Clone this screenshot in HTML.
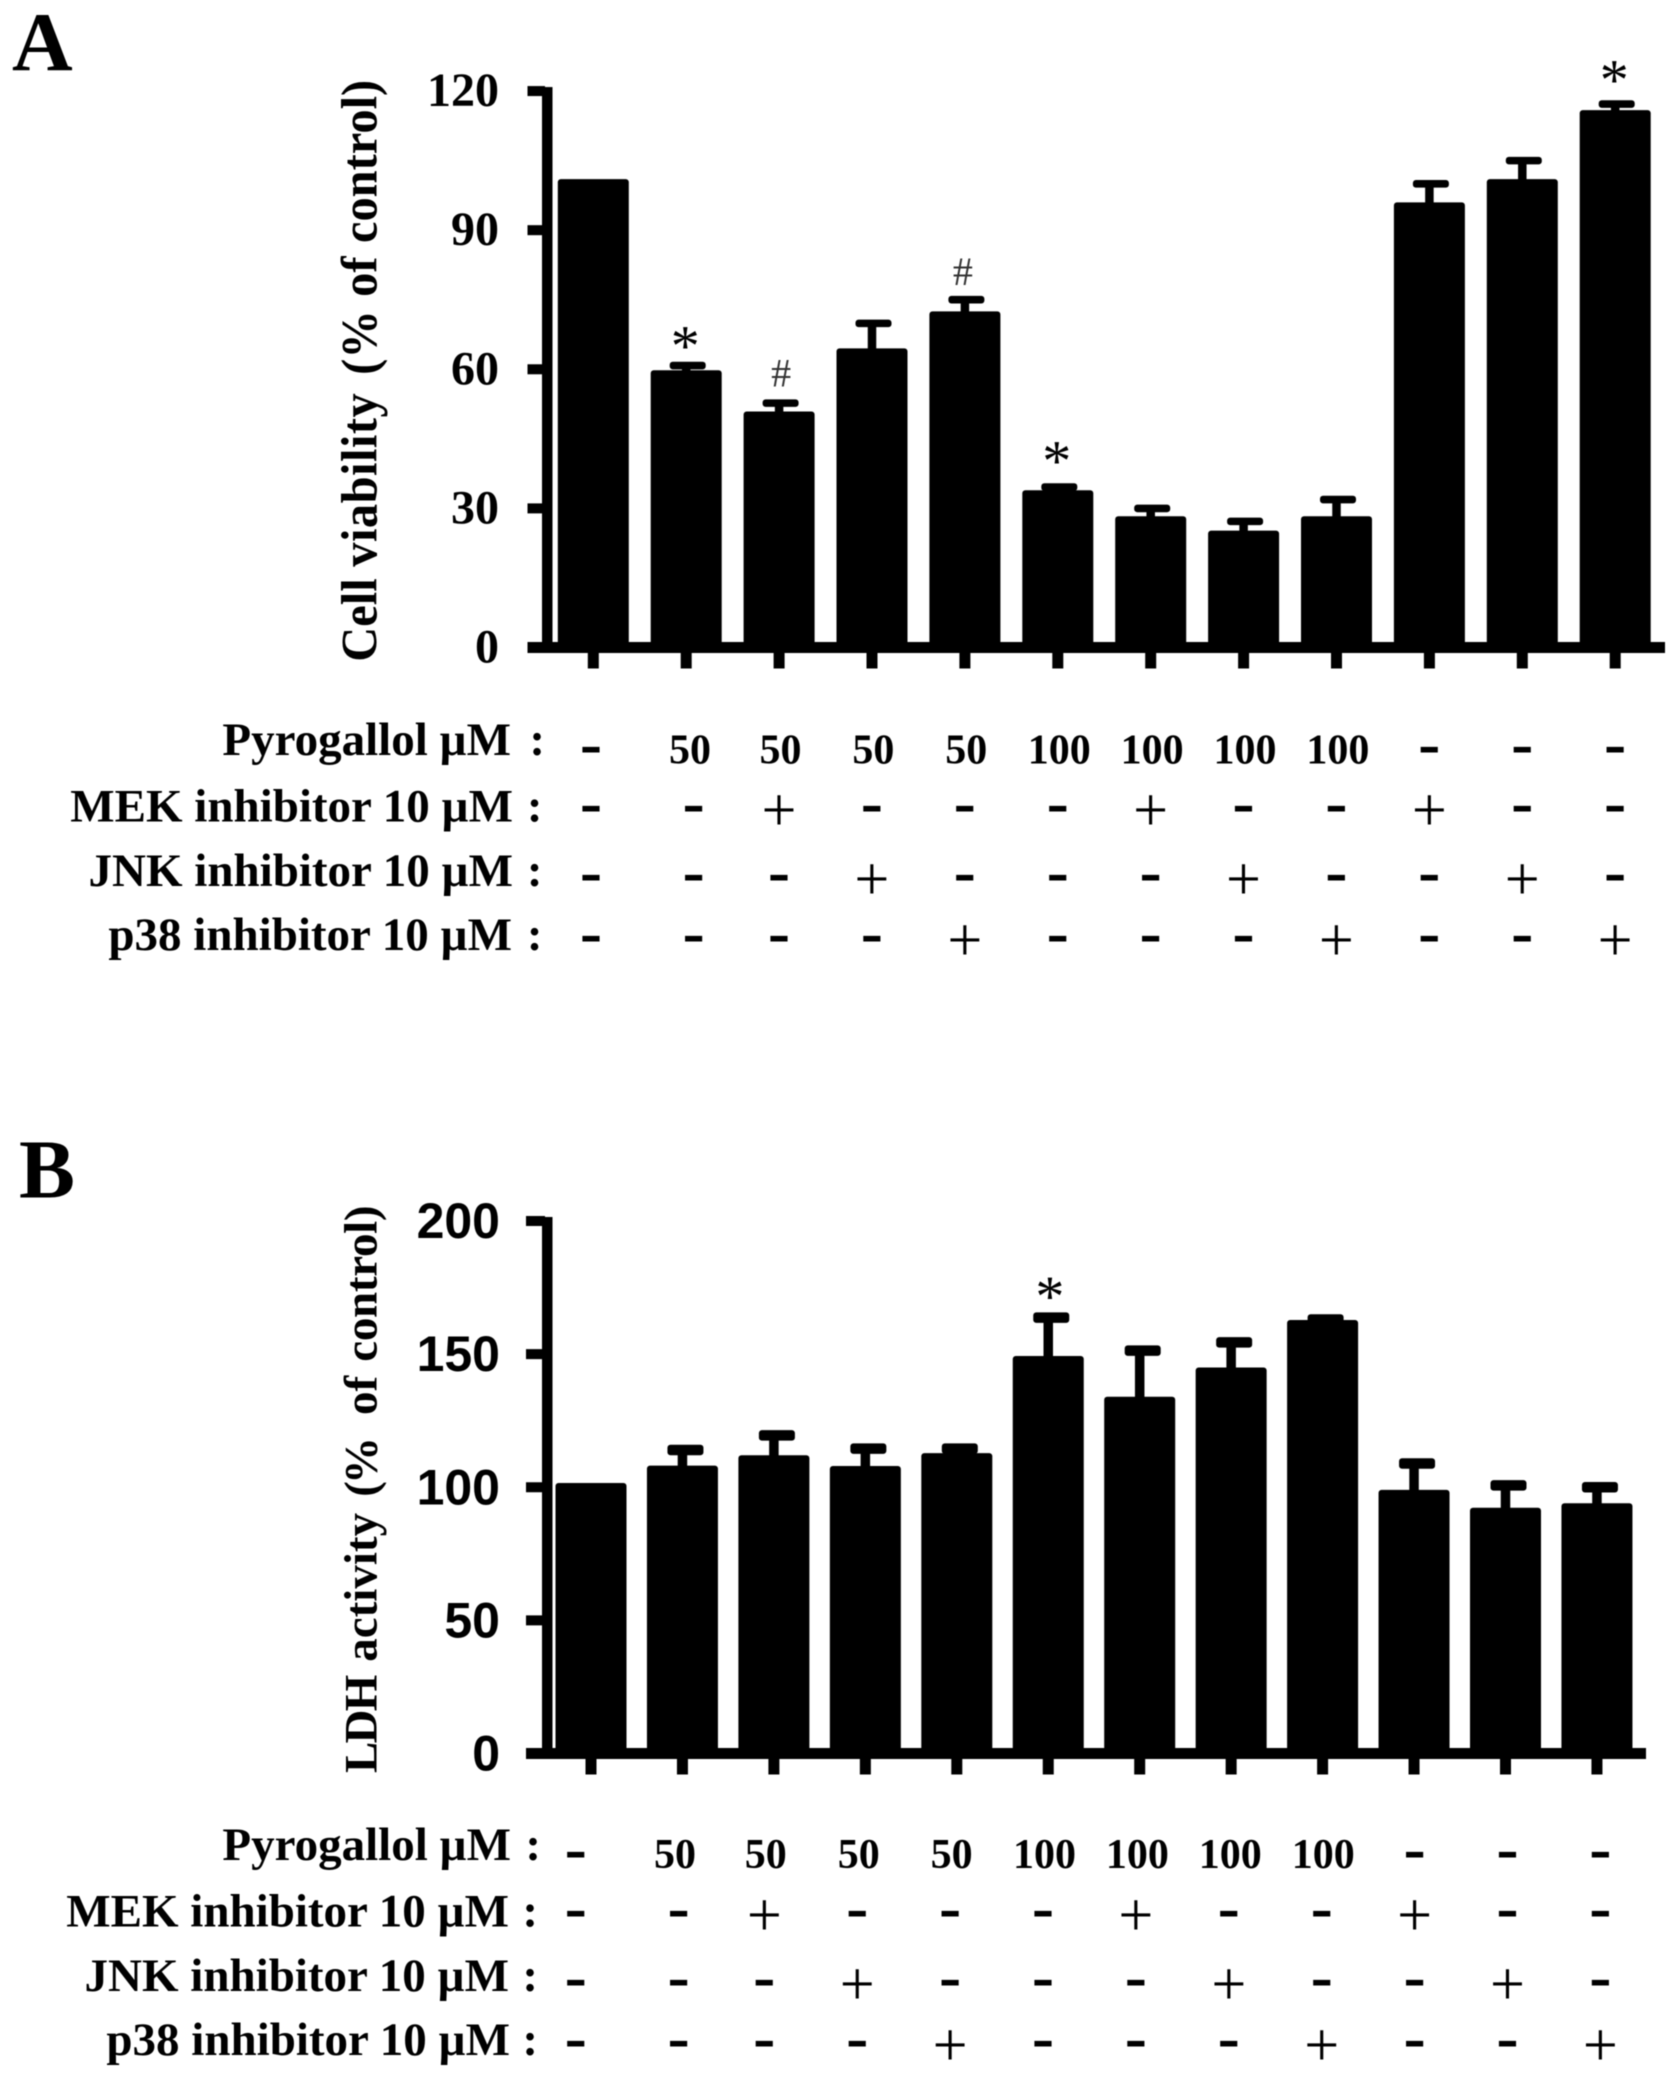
<!DOCTYPE html>
<html lang="en">
<head>
<meta charset="utf-8">
<title>Cell viability and LDH activity</title>
<style>
html,body{margin:0;padding:0;background:#fff}
svg{display:block;filter:blur(.5px)}
text{font-family:"Liberation Serif",serif;fill:#000}
.lab{font-weight:bold;font-size:47px}
.title{font-weight:bold}
</style>
</head>
<body>
<svg id="figure" xmlns="http://www.w3.org/2000/svg" width="1677" height="2078" viewBox="0 0 1677 2078">
  <rect width="1677" height="2078" fill="#fff"/>
  <text x="12" y="70.5" font-size="84" font-weight="bold">A</text>
  <text x="19" y="1197.5" font-size="84" font-weight="bold">B</text>

  <text class="title" transform="translate(376.7,661.7) rotate(-90) scale(.95,1)" font-size="51"><tspan x="0">Cell</tspan> <tspan x="100" letter-spacing="0.5">viability</tspan> <tspan x="302">(%</tspan> <tspan x="384">of</tspan> <tspan x="440.7">control)</tspan></text>
  <text class="title" transform="translate(376.7,1773) rotate(-90)" font-size="47"><tspan x="0" letter-spacing="-1.8">LDH</tspan> <tspan x="111.3">activity</tspan> <tspan x="276.3" letter-spacing="-3">(%</tspan> <tspan x="358">of</tspan> <tspan x="411.3" letter-spacing="-0.3">control)</tspan></text>

  <g id="panelA"></g>
  <g id="panelB"></g>

  <g text-anchor="end">
    <text class="lab" x="511" y="755">Pyrogallol µM</text>
    <text class="lab" x="513" y="821.5">MEK inhibitor 10 µM</text>
    <text class="lab" x="513" y="886">JNK inhibitor 10 µM</text>
    <text class="lab" x="512" y="950">p38 inhibitor 10 µM</text>
    <text class="lab" x="545" y="755">:</text>
    <text class="lab" x="542.5" y="821.5">:</text>
    <text class="lab" x="542.5" y="886">:</text>
    <text class="lab" x="542.5" y="950">:</text>
  </g>
  <g text-anchor="end">
    <text class="lab" x="511" y="1860">Pyrogallol µM</text>
    <text class="lab" x="509" y="1926.5">MEK inhibitor 10 µM</text>
    <text class="lab" x="509" y="1991">JNK inhibitor 10 µM</text>
    <text class="lab" x="510" y="2055">p38 inhibitor 10 µM</text>
    <text class="lab" x="541" y="1860">:</text>
    <text class="lab" x="538" y="1926.5">:</text>
    <text class="lab" x="538" y="1991">:</text>
    <text class="lab" x="538" y="2055">:</text>
  </g>
  <g id="tableA"></g>
  <g id="tableB"></g>
</svg>

<script>
// Chart data
var viabilityValues = [101, 59.8, 50.9, 64.5, 72.5, 33.9, 28.3, 25.2, 28.3, 96, 101, 115.9];
var viabilityErrorTops = [101, 60.8, 52.7, 69.9, 75, 34.6, 30, 27.2, 31.9, 100, 105, 117.2];
var viabilityTicks = [0, 30, 60, 90, 120];
var viabilitySymbols = ['', '*', '#', '', '#', '*', '', '', '', '', '', '*'];
var viabilitySymbolLift = [0, 0, 3.6, 0, 3.2, 1.4, 0, 0, 0, 0, 0, 1];

var ldhValues = [101.6, 108.1, 112, 108, 112.8, 149.3, 134, 145, 162.8, 99, 92.3, 94];
var ldhErrorTops = [101.6, 114, 119.5, 114.5, 114.5, 163.7, 151.3, 154.4, 163, 108.9, 100.7, 100];
var ldhTicks = [0, 50, 100, 150, 200];
var ldhSymbols = ['', '', '', '', '', '*', '', '', '', '', '', ''];
var ldhSymbolLift = [0, 0, 0, 0, 0, 0.6, 0, 0, 0, 0, 0, 0];

var pyrogallolDoses = [0, 50, 50, 50, 50, 100, 100, 100, 100, 0, 0, 0];
var mekFlags = [0, 0, 1, 0, 0, 0, 1, 0, 0, 1, 0, 0];
var jnkFlags = [0, 0, 0, 1, 0, 0, 0, 1, 0, 0, 1, 0];
var p38Flags = [0, 0, 0, 0, 1, 0, 0, 0, 1, 0, 0, 1];

var NS = 'http://www.w3.org/2000/svg';

function make(parent, tag, attrs, text) {
  var el = document.createElementNS(NS, tag);
  for (var k in attrs) el.setAttribute(k, attrs[k]);
  if (text !== undefined) el.textContent = text;
  parent.appendChild(el);
  return el;
}

function drawChart(cfg) {
  var g = document.getElementById(cfg.id);
  function yScale(v) { return cfg.y0 - v * cfg.unit; }
  function xScale(i) { return cfg.x0 + cfg.step * i; }
  var top = yScale(cfg.ticks[cfg.ticks.length - 1]);

  var yLine = make(g, 'rect', {x: 542, y: top - 4, width: 10.5, height: cfg.y0 - top + 9, fill: '#000'});
  
  
  var xLine = make(g, 'rect', {x: cfg.tickLeft, y: cfg.y0 - 5.5, width: cfg.axisRight - cfg.tickLeft, height: 11, fill: '#000'});
  
  

  cfg.ticks.forEach(function (t) {
    var mark = make(g, 'rect', {x: cfg.tickLeft, y: yScale(t) - 5, width: 545 - cfg.tickLeft, height: 10, fill: '#000'});
    
    
    var lab = make(g, 'text', {
      x: cfg.labelRight, y: yScale(t) + cfg.labelDrop, 'text-anchor': 'end',
      'font-size': cfg.tickFont, 'font-weight': 'bold',
      style: 'font-family:' + cfg.tickFamily
    }, String(t));
    
    
  });

  cfg.values.forEach(function (v, i) {
    var cx = xScale(i);
    var tick = make(g, 'rect', {x: cx - 5.5, y: cfg.y0, width: 11, height: 21, fill: '#000'});
    
    

    var errTop = cfg.errs[i];
    if (errTop > v) {
      var stem = make(g, 'rect', {x: cx - cfg.stemW / 2, y: yScale(errTop), width: cfg.stemW, height: yScale(v) - yScale(errTop) + 2, fill: '#000'});
      
      
      var cap = make(g, 'rect', {x: cx + cfg.capShift - 18, y: yScale(errTop) - cfg.capH / 2, width: 36, height: cfg.capH, rx: 3, fill: '#000'});
      
      
    }
    var bar = make(g, 'rect', {x: cx - 35.5, y: yScale(v), width: 71, height: cfg.y0 - yScale(v), rx: 3, fill: '#000'});
    
    

    var sym = cfg.symbols[i];
    if (sym) {
      var isStar = sym === '*';
      var hashShift = i === 2 ? 2 : -2;
      var note = make(g, 'text', {
        x: cx + (isStar ? cfg.starShift : hashShift), y: yScale(errTop + cfg.lift[i]),
        'text-anchor': 'middle', 'font-size': isStar ? 58 : 40,
        style: 'fill:' + (isStar ? '#000' : '#333')
      }, sym);
      
      
    }
  });
}

function drawTable(cfg) {
  var g = document.getElementById(cfg.id);
  function colX(i) {
    if (i === 0) return cfg.col0;
    if (i === 1) return cfg.col1;
    return cfg.col2 + 92.9 * (i - 2);
  }
  function hyphen(x, yc) {
    var h = make(g, 'text', {x: x, y: yc + 16, 'text-anchor': 'middle', 'font-size': 66, 'font-weight': 'bold'}, '-');
    
    
  }
  pyrogallolDoses.forEach(function (d, i) {
    if (d === 0) { hyphen(colX(i), cfg.rowY[0] - 1); return; }
    var nx = i === 1 ? cfg.col1 - 3.6 : colX(i) + 1.5;
    var t = make(g, 'text', {x: nx, y: cfg.numBase, 'text-anchor': 'middle', 'font-size': 42, 'font-weight': 'bold'}, String(d));
    
    
  });
  [mekFlags, jnkFlags, p38Flags].forEach(function (flags, r) {
    flags.forEach(function (f, i) {
      if (!f) { hyphen(colX(i), cfg.rowY[r + 1]); return; }
      var p = make(g, 'text', {x: colX(i), y: cfg.rowY[r + 1] + 22.5, 'text-anchor': 'middle', 'font-size': 62}, '+');
      
      
    });
  });
}

drawChart({
  id: 'panelA', values: viabilityValues, errs: viabilityErrorTops, ticks: viabilityTicks,
  symbols: viabilitySymbols, lift: viabilitySymbolLift, starShift: -1,
  y0: 647.5, unit: 4.637, x0: 593.3, step: 92.9, tickLeft: 527.5, axisRight: 1665,
  labelDrop: 15, labelRight: 499, tickFont: 48, tickFamily: '"Liberation Serif",serif',
  stemW: 8.5, capH: 7.6, capShift: 1.5
});
drawChart({
  id: 'panelB', values: ldhValues, errs: ldhErrorTops, ticks: ldhTicks,
  symbols: ldhSymbols, lift: ldhSymbolLift, starShift: 1.6,
  y0: 1753.5, unit: 2.6625, x0: 591, step: 91.45, tickLeft: 526, axisRight: 1646,
  labelDrop: 17, labelRight: 500, tickFont: 50, tickFamily: '"Liberation Sans",sans-serif',
  stemW: 9.5, capH: 10.5, capShift: 3
});
drawTable({id: 'tableA', col0: 591, col1: 693.6, col2: 779, numBase: 763.5, rowY: [750, 808, 877, 938]});
drawTable({id: 'tableB', col0: 575.8, col1: 678.6, col2: 764.3, numBase: 1868, rowY: [1855, 1913, 1982, 2043]});
</script>
</body>
</html>
